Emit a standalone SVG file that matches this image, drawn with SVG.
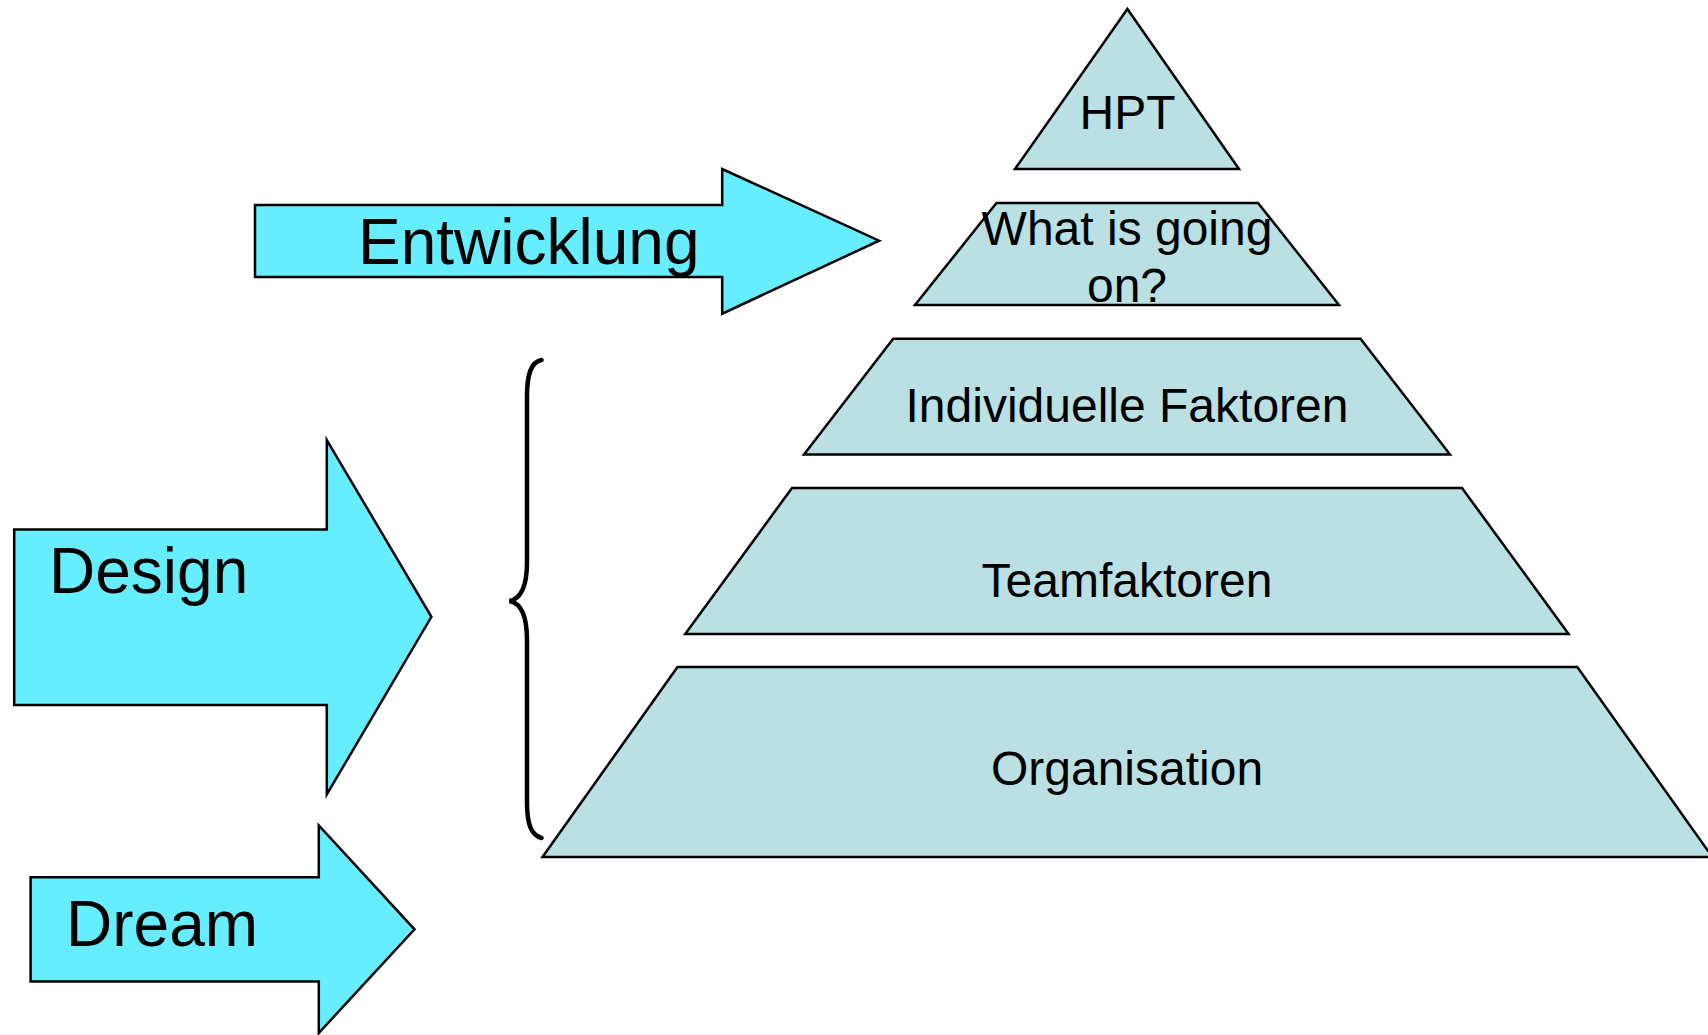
<svg xmlns="http://www.w3.org/2000/svg" width="1708" height="1035" viewBox="0 0 1708 1035">
<style>
.lvl{fill:#BAE0E3;stroke:#000;stroke-width:2.5;stroke-linejoin:miter}
.arr{fill:#66EEFE;stroke:#000;stroke-width:2.5;stroke-linejoin:miter}
.t{font-family:"Liberation Sans",Arial,sans-serif;fill:#000}
.lt{font-size:48px;text-anchor:middle}
.at{font-size:64px}
.brace{fill:none;stroke:#000;stroke-width:4.5;stroke-linecap:round}
</style>
<rect width="1708" height="1035" fill="#fff"/>
<g id="hpt">
<polygon class="lvl" points="1127.4,9 1015,169 1239,169"/>
<text class="t lt" x="1127.5" y="129">HPT</text>
</g>
<g id="what-is-going-on">
<polygon class="lvl" points="996.5,203 1258,203 1339,305 915,305"/>
<text class="t lt" x="1127" y="245">What is going</text>
<text class="t lt" x="1127" y="302">on?</text>
</g>
<g id="individuelle-faktoren">
<polygon class="lvl" points="893.2,338.8 1360.5,338.8 1450,454.5 804,454.5"/>
<text class="t lt" x="1127" y="422">Individuelle Faktoren</text>
</g>
<g id="teamfaktoren">
<polygon class="lvl" points="792,488 1462,488 1568.6,634 685.2,634"/>
<text class="t lt" x="1127" y="597">Teamfaktoren</text>
</g>
<g id="organisation">
<polygon class="lvl" points="677.5,667 1577.3,667 1712.3,857 542.5,857"/>
<text class="t lt" x="1127" y="785">Organisation</text>
</g>
<g id="entwicklung">
<polygon class="arr" points="255,205 722.2,205 722.2,169 879.1,240.7 722.2,313.7 722.2,277 255,277"/>
<text class="t at" x="358" y="264">Entwicklung</text>
</g>
<g id="design">
<polygon class="arr" points="14.2,529.4 326.8,529.4 326.8,440 431.4,616.8 326.8,794.5 326.8,705 14.2,705"/>
<text class="t at" x="49" y="593">Design</text>
</g>
<g id="dream">
<polygon class="arr" points="30.6,877.3 318.8,877.3 318.8,825.5 414.5,929.3 318.8,1033 318.8,981.5 30.6,981.5"/>
<text class="t at" x="66" y="945.5">Dream</text>
</g>
<g id="connectors">
<path class="brace" d="M541.5,360 C531,362 527,374 527,396 L527,562 C527,588 520,599 509.5,601 C520,603 527,614 527,640 L527,802 C527,824 531,835 541.5,838"/>
</g>
</svg>
